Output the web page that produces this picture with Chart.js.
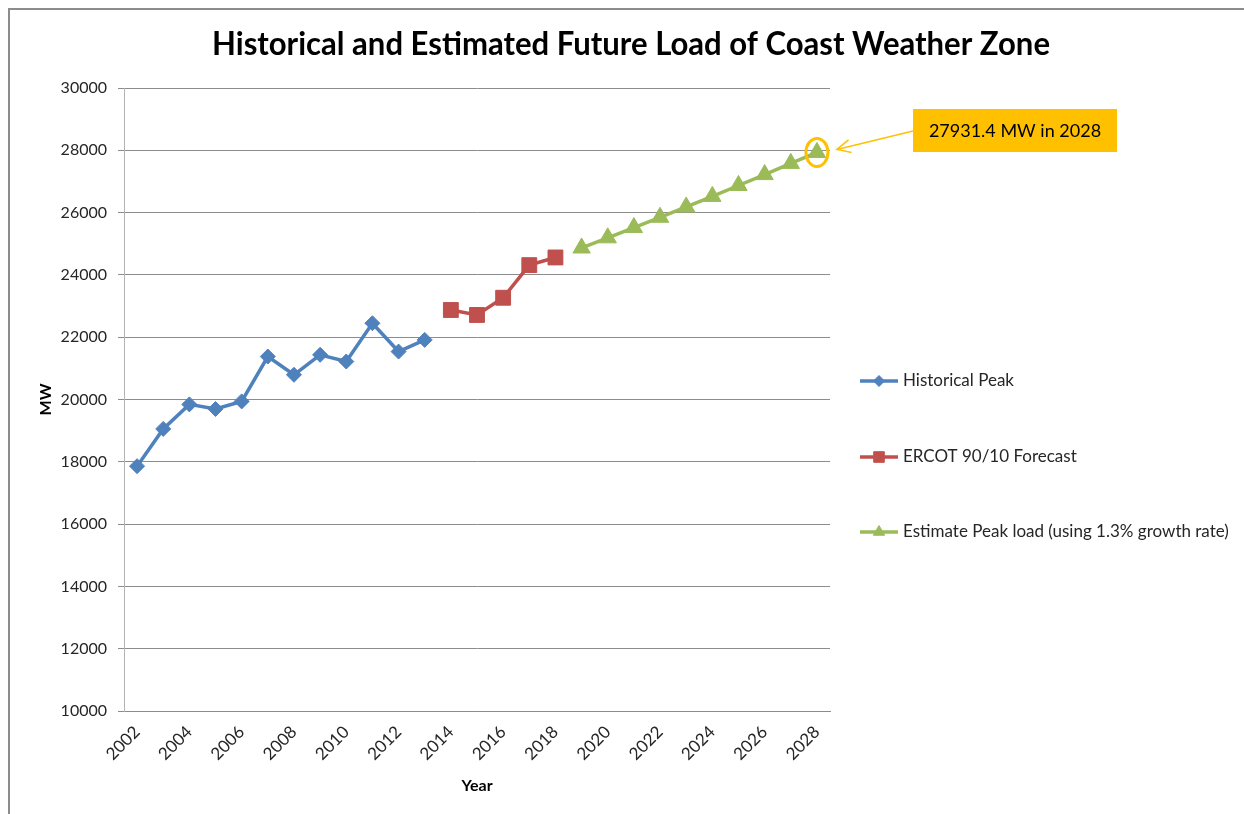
<!DOCTYPE html>
<html>
<head>
<meta charset="utf-8">
<script src="https://cdn.jsdelivr.net/npm/chart.js@4.4.1/dist/chart.umd.min.js"></script>
<style>
  html, body { margin: 0; padding: 0; background: #fff; }
  #wrap { position: relative; width: 1244px; height: 814px; }
</style>
</head>
<body>
<div id="wrap"><canvas id="chart" width="1244" height="814"></canvas></div>
<script>
const years = ['2002', '2003', '2004', '2005', '2006', '2007', '2008', '2009', '2010',
  '2011', '2012', '2013', '2014', '2015', '2016', '2017', '2018', '2019', '2020',
  '2021', '2022', '2023', '2024', '2025', '2026', '2027', '2028'];

const historical = [17860, 19056, 19843, 19696, 19939, 21379, 20794, 21434, 21219, 22448, 21539, 21914,
  null, null, null, null, null, null, null, null, null, null, null, null, null, null, null];

const ercot = [null, null, null, null, null, null, null, null, null, null, null, null,
  22874, 22714, 23267, 24314, 24560,
  null, null, null, null, null, null, null, null, null, null];

const estimate = [null, null, null, null, null, null, null, null, null, null, null, null,
  null, null, null, null, null,
  24864, 25190, 25520, 25850, 26180, 26520, 26870, 27220, 27580, 27931.4];

const yTicks = { min: 10000, max: 30000, step: 2000 };

const titleText = 'Historical and Estimated Future Load of Coast Weather Zone';
const calloutText = '27931.4 MW in 2028';

const frame = {
  id: 'frame',
  beforeDraw(chart) {
    let ctx = chart.ctx;
    ctx.save();
    ctx.fillStyle = '#fff';
    ctx.fillRect(0, 0, chart.width, chart.height);
    ctx.strokeStyle = '#8c8c8c';
    ctx.lineWidth = 2;
    ctx.beginPath();
    ctx.moveTo(9, chart.height);
    ctx.lineTo(9, 9);
    ctx.lineTo(chart.width, 9);
    ctx.stroke();
    ctx.restore();
  },
  afterDraw(chart) {
    let ctx = chart.ctx;
    ctx.save();
    ctx.fillStyle = '#000';
    ctx.font = 'bold 32px Lato';
    ctx.textAlign = 'center';
    ctx.textBaseline = 'middle';
    ctx.fillText(titleText, 631, 45, 838);
    ctx.restore();
  }
};

// legend drawn in the open space right of the plot, like the original
const sideLegend = {
  id: 'sideLegend',
  afterDraw(chart) {
    let ctx = chart.ctx;
    let rows = [381, 457, 532];
    let sizes = [5.5, 7.5, 6.5];
    ctx.save();
    chart.data.datasets.forEach((ds, i) => {
      let y = rows[i];
      ctx.strokeStyle = ds.borderColor;
      ctx.lineWidth = 3.5;
      ctx.beginPath();
      ctx.moveTo(860, y);
      ctx.lineTo(898, y);
      ctx.stroke();
      ctx.fillStyle = ds.backgroundColor;
      ctx.strokeStyle = ds.borderColor;
      ctx.lineWidth = 1;
      Chart.helpers.drawPoint(ctx, { pointStyle: ds.pointStyle, radius: sizes[i], borderWidth: 1 }, 879, y);
      ctx.fillStyle = '#262626';
      ctx.font = '17px Lato';
      ctx.textAlign = 'left';
      ctx.textBaseline = 'middle';
      ctx.fillText(ds.label, 903, y);
    });
    ctx.restore();
  }
};

const callout = {
  id: 'callout',
  afterDatasetsDraw(chart) {
    let ctx = chart.ctx;
    let last = estimate.length - 1;
    let px = chart.scales.x.getPixelForValue(last);
    let py = chart.scales.y.getPixelForValue(estimate[last]);
    ctx.save();
    ctx.strokeStyle = '#FFC000';
    ctx.lineWidth = 3;
    ctx.beginPath();
    ctx.ellipse(px, py, 11, 14, 0, 0, Math.PI * 2);
    ctx.stroke();

    let tipX = px + 20, tipY = py - 3;
    ctx.lineWidth = 1.5;
    ctx.beginPath();
    ctx.moveTo(913, 131);
    ctx.lineTo(tipX, tipY);
    ctx.stroke();
    let ang = Math.atan2(tipY - 131, tipX - 913);
    ctx.beginPath();
    ctx.moveTo(tipX - 15 * Math.cos(ang - 0.45), tipY - 15 * Math.sin(ang - 0.45));
    ctx.lineTo(tipX, tipY);
    ctx.lineTo(tipX - 15 * Math.cos(ang + 0.45), tipY - 15 * Math.sin(ang + 0.45));
    ctx.stroke();

    ctx.fillStyle = '#FFC000';
    ctx.fillRect(913, 109, 204, 43);
    ctx.fillStyle = '#000';
    ctx.font = '18px Lato';
    ctx.textAlign = 'center';
    ctx.textBaseline = 'middle';
    ctx.fillText(calloutText, 1015, 131);
    ctx.restore();
  }
};

new Chart(document.getElementById('chart'), {
  type: 'line',
  data: {
    labels: years,
    datasets: [
      {
        label: 'Historical Peak', data: historical,
        borderColor: '#4F81BD', backgroundColor: '#4F81BD',
        borderWidth: 3.5, pointStyle: 'rectRot', pointRadius: 7.5, pointBorderWidth: 1,
      },
      {
        label: 'ERCOT 90/10 Forecast', data: ercot,
        borderColor: '#C0504D', backgroundColor: '#C0504D',
        borderWidth: 3.5, pointStyle: 'rect', pointRadius: 10.5, pointBorderWidth: 1,
      },
      {
        label: 'Estimate Peak load (using 1.3% growth rate)', data: estimate,
        borderColor: '#9BBB59', backgroundColor: '#9BBB59',
        borderWidth: 3.5, pointStyle: 'triangle', pointRadius: 10, pointBorderWidth: 1,
      },
    ],
  },
  options: {
    responsive: false,
    animation: false,
    layout: { padding: { left: 0, right: 414, top: 88, bottom: 0 } },
    plugins: {
      legend: { display: false },
      title: { display: false },
      tooltip: { enabled: false },
    },
    scales: {
      x: {
        offset: true,
        grid: { display: false, drawTicks: false },
        border: { display: true, color: '#8c8c8c', width: 1 },
        ticks: {
          autoSkip: false, minRotation: 45, maxRotation: 45, padding: 11,
          color: '#262626', font: { family: 'Lato', size: 17 },
          callback: (v, i) => (i % 2 === 0 ? years[i] : ''),
        },
        title: {
          display: true, text: 'Year', color: '#000',
          font: { family: 'Lato', size: 16, weight: 'bold' },
          padding: { top: 0, bottom: 19 },
        },
        afterFit(scale) { scale.height = 103; },
      },
      y: {
        min: yTicks.min, max: yTicks.max,
        grid: { color: '#8c8c8c', tickLength: 6, drawTicks: true },
        border: { display: true, color: '#b3b3b3', width: 1 },
        ticks: {
          stepSize: yTicks.step, padding: 11,
          color: '#262626', font: { family: 'Lato', size: 16 },
          callback: (v) => String(v),
        },
        title: {
          display: true, text: 'MW', color: '#000',
          font: { family: 'Lato', size: 16, weight: 'bold' },
          padding: { top: 36, bottom: 0 },
        },
        afterFit(scale) { scale.width = 124; },
      },
    },
  },
  plugins: [frame, sideLegend, callout],
});
</script>
</body>
</html>
